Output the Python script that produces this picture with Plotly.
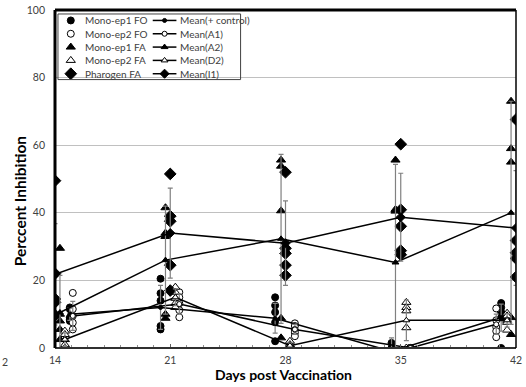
import plotly.graph_objects as go

# ---------------- data ----------------
days = [14, 21, 28, 35, 42]
x_tick_labels = ["14", "21", "28", "35", "42"]
y_ticks = [0, 20, 40, 60, 80, 100]

series_names = ["Mono-ep1 FO", "Mono-ep2 FO", "Mono-ep1 FA", "Mono-ep2 FA", "Pharogen FA"]
mean_names = ["Mean(+ control)", "Mean(A1)", "Mean(A2)", "Mean(D2)", "Mean(I1)"]

# day values at which each group was plotted (groups are spread around each day)
ep1_fo_days = [14.9, 20.41, 27.37, 34.44, 41.1]
ep2_fo_days = [15.08, 21.55, 28.57, 35.58, 40.8]
ep1_fa_days = [14.3, 20.71, 27.73, 34.68, 41.7]
ep2_fa_days = [14.6, 21.31, 28.27, 35.34, 41.46]
pharogen_days = [14, 21, 28, 35, 42]

# individual values (% inhibition), one list per day
ep1_fo = [[12, 11.5, 9, 8.5, 8], [20.5, 16.2, 14, 6.5, 5.5], [15, 12.6, 10.6, 7.6, 2],
          [1.5, 0, -1, -2, -3.5], [13.3, 12, 10.6, 9, 0]]
ep2_fo = [[16.3, 11.5, 9.5, 7.5, 5.5], [16.5, 15, 13.2, 11.2, 9.1], [7.3, 6.5, 5.3, 4.5, 3.5],
          [0, 0, 0, 0, 0], [11.7, 8.2, 6.2, 5, 3.2]]
ep1_fa = [[29.5, 10, 8, 5.5, 2.5], [41.5, 34, 33, 10, 8.8], [55.6, 53.8, 40.6, 8.8, 3],
          [55.6, 41, 40.5, -5, -5.5], [73, 59, 55, 9, 4]]
ep2_fa = [[5, 4, 2.5, 1, 0], [18, 16.5, 14.7, 13.2, 12], [2, 1, 0.5, 0, 0],
          [13.5, 12, 11, 6, 0], [10.3, 9.5, 8.2, 7.6, 5.3]]
pharogen = [[49.5, 22, 14.5, 13.5, 9.7], [51.5, 39, 37.5, 24.5, 17], [52, 29.5, 28, 24.5, 21.5],
            [60.3, 40.9, 36, 28.8, 27.6], [67.6, 31.8, 28.2, 26.5, 21]]

# group means and their error
mean_ctrl = [10, 12, 8.8, -1, 9]
mean_a1 = [9.5, 13, 5.5, 0, 7]
mean_a2 = [10.5, 26, 32.3, 25.3, 40]
mean_d2 = [2.5, 15, 0.7, 8.2, 8.2]
mean_i1 = [21.8, 34, 31, 38.7, 35.5]

err_ctrl = [1.8, 6.5, 4.4, 4, 4]
err_a1 = [4.3, 3, 1.5, 0, 3]
err_a2 = [11, 16, 25, 29, 33]
err_d2 = [2, 2.5, 1, 6, 2]
err_i1 = [15, 13.3, 12.5, 13, 17]

# ---------------- styles ----------------
FONT = "Lato"
TXT = "#404040"
# plot area in pixels
L, R, T, B = 55, 522, 8, 348
W, H = 526, 387


def pxx(x):
    return (x - L) / (R - L)


def pxy(y):
    return (B - y) / (B - T)


point_styles = [
    dict(symbol="circle", size=7, color="black", line=dict(color="black", width=1)),
    dict(symbol="circle", size=7, color="white", line=dict(color="black", width=1)),
    dict(symbol="triangle-up", size=8, color="black", line=dict(color="black", width=1)),
    dict(symbol="triangle-up", size=8, color="white", line=dict(color="black", width=1)),
    dict(symbol="diamond", size=9, color="black", line=dict(color="black", width=1)),
]
mean_styles = [
    dict(symbol="circle", size=4, color="black", line=dict(color="black", width=1)),
    dict(symbol="circle", size=5, color="white", line=dict(color="black", width=1)),
    dict(symbol="triangle-up", size=6, color="black", line=dict(color="black", width=1)),
    dict(symbol="triangle-up", size=6, color="white", line=dict(color="black", width=1)),
    dict(symbol="diamond", size=7, color="black", line=dict(color="black", width=1)),
]

groups_days = [ep1_fo_days, ep2_fo_days, ep1_fa_days, ep2_fa_days, pharogen_days]
groups_vals = [ep1_fo, ep2_fo, ep1_fa, ep2_fa, pharogen]
means = [mean_ctrl, mean_a1, mean_a2, mean_d2, mean_i1]
errs = [err_ctrl, err_a1, err_a2, err_d2, err_i1]

fig = go.Figure()

# individual points
for name, gx, gv, st in zip(series_names, groups_days, groups_vals, point_styles):
    xs, ys = [], []
    for d, vals in zip(gx, gv):
        for v in vals:
            xs.append(d)
            ys.append(v)
    fig.add_trace(go.Scatter(x=xs, y=ys, mode="markers", name=name, marker=st,
                             showlegend=False))

# mean lines with error bars
for name, gx, m, e, st in zip(mean_names, groups_days, means, errs, mean_styles):
    fig.add_trace(go.Scatter(
        x=gx, y=m, mode="lines+markers", name=name, marker=st,
        line=dict(color="black", width=1.5),
        error_y=dict(type="data", array=e, visible=True, color="#808080",
                     thickness=1.2, width=2.5),
        showlegend=False))

# ---------------- hand-made two-column legend ----------------
leg_box = (58, 12, 243, 78)
row0, row_step = 18.5, 13.4
col1_marker_x, col1_text_x = 71, 83
col2_line = (154, 178)
col2_text_x = 180

annotations = []
for i, (nm, st) in enumerate(zip(series_names, point_styles)):
    yy = row0 + i * row_step
    fig.add_trace(go.Scatter(x=[col1_marker_x], y=[yy], xaxis="x2", yaxis="y2",
                             mode="markers", marker=st, showlegend=False,
                             hoverinfo="skip", cliponaxis=False))
    annotations.append(dict(x=pxx(col1_text_x), y=pxy(yy), xref="paper", yref="paper",
                            text=nm, showarrow=False, xanchor="left", yanchor="middle",
                            font=dict(family=FONT, size=10, color=TXT)))
for i, (nm, st) in enumerate(zip(mean_names, mean_styles)):
    yy = row0 + i * row_step
    fig.add_trace(go.Scatter(x=[col2_line[0], col2_line[1]], y=[yy, yy], xaxis="x2",
                             yaxis="y2", mode="lines", line=dict(color="black", width=1.5),
                             showlegend=False, hoverinfo="skip"))
    fig.add_trace(go.Scatter(x=[(col2_line[0] + col2_line[1]) / 2], y=[yy], xaxis="x2",
                             yaxis="y2", mode="markers", marker=st, showlegend=False,
                             hoverinfo="skip"))
    annotations.append(dict(x=pxx(col2_text_x), y=pxy(yy), xref="paper", yref="paper",
                            text=nm, showarrow=False, xanchor="left", yanchor="middle",
                            font=dict(family=FONT, size=10, color=TXT)))

# axis titles
annotations.append(dict(x=pxx(286), y=pxy(375), xref="paper", yref="paper",
                        text="<b>Days post Vaccination</b>", showarrow=False,
                        xanchor="center", yanchor="middle",
                        font=dict(family=FONT, size=14, color="black")))
annotations.append(dict(x=pxx(19), y=pxy(200), xref="paper", yref="paper",
                        text="<b>Perccent Inhibition</b>", showarrow=False, textangle=-90,
                        xanchor="center", yanchor="middle",
                        font=dict(family=FONT, size=15.5, color="black")))
# fragment of a neighbouring panel's label at the left edge
annotations.append(dict(x=pxx(4), y=pxy(362), xref="paper", yref="paper",
                        text="2", showarrow=False, xanchor="center", yanchor="middle",
                        font=dict(family=FONT, size=10.5, color=TXT)))

shapes = [
    dict(type="rect", xref="x2", yref="y2", x0=leg_box[0], y0=leg_box[1], x1=leg_box[2],
         y1=leg_box[3], line=dict(color="#404040", width=1), fillcolor="rgba(0,0,0,0)"),
    # frame
    dict(type="line", xref="paper", yref="paper", x0=0, x1=1, y0=0, y1=0,
         line=dict(color="#303030", width=2)),
    dict(type="line", xref="paper", yref="paper", x0=0, x1=1, y0=1, y1=1,
         line=dict(color="black", width=3)),
    dict(type="line", xref="paper", yref="paper", x0=0, x1=0, y0=0, y1=1,
         line=dict(color="black", width=3)),
    dict(type="line", xref="paper", yref="paper", x0=1, x1=1, y0=0, y1=1,
         line=dict(color="black", width=1.5)),
]

fig.update_layout(
    width=W, height=H,
    margin=dict(l=L, r=W - R, t=T, b=H - B, pad=0),
    paper_bgcolor="white", plot_bgcolor="white",
    showlegend=False,
    font=dict(family=FONT, size=10, color=TXT),
    xaxis=dict(range=[14, 42], tickmode="array", tickvals=days, ticktext=x_tick_labels,
               showgrid=False, zeroline=False, showline=False,
               ticks="inside", ticklen=4, tickcolor="#606060",
               minor=dict(dtick=1, ticks="inside", ticklen=3, tickcolor="#909090",
                          showgrid=False),
               tickfont=dict(family=FONT, size=10.5, color=TXT), ticklabelstandoff=4,
               ticklabeloverflow="allow"),
    yaxis=dict(range=[0, 100], tickmode="array", tickvals=y_ticks,
               showgrid=True, gridcolor="#c0c0c0", gridwidth=1.3, zeroline=False,
               showline=False, ticks="",
               tickfont=dict(family=FONT, size=10.5, color=TXT), ticklabelstandoff=9),
    xaxis2=dict(overlaying="x", anchor="y2", range=[L, R], visible=False),
    yaxis2=dict(overlaying="y", anchor="x2", range=[B, T], visible=False),
    annotations=annotations,
    shapes=shapes,
)

fig.write_html("out.html")
